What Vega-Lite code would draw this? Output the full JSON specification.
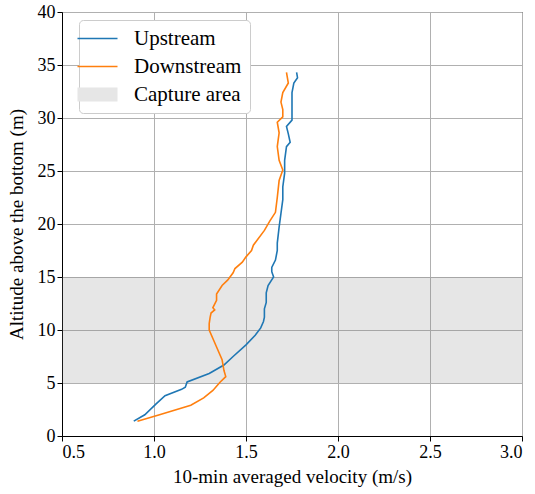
{
  "$schema": "https://vega.github.io/schema/vega-lite/v6.json",
  "width": 460,
  "height": 424,
  "autosize": {"type": "none"},
  "padding": {"left": 62, "top": 12, "right": 13, "bottom": 58},
  "background": "white",
  "config": {
    "font": "Liberation Serif",
    "view": {"stroke": "black", "strokeWidth": 1},
    "axis": {
      "labelFont": "Liberation Serif",
      "titleFont": "Liberation Serif",
      "labelFontSize": 18,
      "titleFontSize": 19,
      "titleFontWeight": "normal",
      "labelColor": "black",
      "titleColor": "black",
      "domainColor": "black",
      "tickColor": "black",
      "tickSize": 5,
      "labelPadding": 2,
      "gridColor": "#b0b0b0",
      "gridWidth": 1
    }
  },
  "datasets": {
    "band": [{"x1": 0.5, "x2": 3.0, "y1": 5, "y2": 15}],
    "profiles": [
      {"series": "Upstream", "alt": 1.4, "v": 0.89},
      {"series": "Upstream", "alt": 2.0, "v": 0.95},
      {"series": "Upstream", "alt": 3.0, "v": 1.01},
      {"series": "Upstream", "alt": 3.8, "v": 1.06},
      {"series": "Upstream", "alt": 4.4, "v": 1.15},
      {"series": "Upstream", "alt": 4.6, "v": 1.17},
      {"series": "Upstream", "alt": 5.1, "v": 1.18},
      {"series": "Upstream", "alt": 5.9, "v": 1.30},
      {"series": "Upstream", "alt": 6.7, "v": 1.38},
      {"series": "Upstream", "alt": 7.5, "v": 1.43},
      {"series": "Upstream", "alt": 8.6, "v": 1.50},
      {"series": "Upstream", "alt": 9.5, "v": 1.55},
      {"series": "Upstream", "alt": 10.2, "v": 1.58},
      {"series": "Upstream", "alt": 10.8, "v": 1.595},
      {"series": "Upstream", "alt": 11.2, "v": 1.60},
      {"series": "Upstream", "alt": 12.0, "v": 1.60},
      {"series": "Upstream", "alt": 12.6, "v": 1.61},
      {"series": "Upstream", "alt": 13.5, "v": 1.61},
      {"series": "Upstream", "alt": 14.2, "v": 1.62},
      {"series": "Upstream", "alt": 15.0, "v": 1.65},
      {"series": "Upstream", "alt": 15.5, "v": 1.64},
      {"series": "Upstream", "alt": 15.9, "v": 1.64},
      {"series": "Upstream", "alt": 16.6, "v": 1.66},
      {"series": "Upstream", "alt": 17.5, "v": 1.67},
      {"series": "Upstream", "alt": 18.2, "v": 1.67},
      {"series": "Upstream", "alt": 19.7, "v": 1.68},
      {"series": "Upstream", "alt": 21.0, "v": 1.69},
      {"series": "Upstream", "alt": 22.3, "v": 1.70},
      {"series": "Upstream", "alt": 23.5, "v": 1.70},
      {"series": "Upstream", "alt": 24.8, "v": 1.71},
      {"series": "Upstream", "alt": 26.0, "v": 1.71},
      {"series": "Upstream", "alt": 27.3, "v": 1.72},
      {"series": "Upstream", "alt": 27.7, "v": 1.74},
      {"series": "Upstream", "alt": 28.5, "v": 1.73},
      {"series": "Upstream", "alt": 29.2, "v": 1.72},
      {"series": "Upstream", "alt": 29.8, "v": 1.75},
      {"series": "Upstream", "alt": 31.0, "v": 1.75},
      {"series": "Upstream", "alt": 32.4, "v": 1.75},
      {"series": "Upstream", "alt": 33.3, "v": 1.76},
      {"series": "Upstream", "alt": 33.8, "v": 1.78},
      {"series": "Upstream", "alt": 34.3, "v": 1.775},
      {"series": "Downstream", "alt": 1.4, "v": 0.91},
      {"series": "Downstream", "alt": 2.0, "v": 1.03},
      {"series": "Downstream", "alt": 2.9, "v": 1.20},
      {"series": "Downstream", "alt": 3.6, "v": 1.27},
      {"series": "Downstream", "alt": 4.3, "v": 1.32},
      {"series": "Downstream", "alt": 5.1, "v": 1.36},
      {"series": "Downstream", "alt": 5.6, "v": 1.39},
      {"series": "Downstream", "alt": 6.2, "v": 1.38},
      {"series": "Downstream", "alt": 7.2, "v": 1.37},
      {"series": "Downstream", "alt": 8.4, "v": 1.34},
      {"series": "Downstream", "alt": 9.2, "v": 1.32},
      {"series": "Downstream", "alt": 10.0, "v": 1.30},
      {"series": "Downstream", "alt": 10.6, "v": 1.30},
      {"series": "Downstream", "alt": 11.2, "v": 1.305},
      {"series": "Downstream", "alt": 11.6, "v": 1.31},
      {"series": "Downstream", "alt": 11.9, "v": 1.33},
      {"series": "Downstream", "alt": 12.1, "v": 1.32},
      {"series": "Downstream", "alt": 12.8, "v": 1.34},
      {"series": "Downstream", "alt": 13.4, "v": 1.34},
      {"series": "Downstream", "alt": 14.2, "v": 1.37},
      {"series": "Downstream", "alt": 14.7, "v": 1.40},
      {"series": "Downstream", "alt": 15.4, "v": 1.43},
      {"series": "Downstream", "alt": 15.8, "v": 1.44},
      {"series": "Downstream", "alt": 16.4, "v": 1.48},
      {"series": "Downstream", "alt": 16.9, "v": 1.50},
      {"series": "Downstream", "alt": 17.5, "v": 1.53},
      {"series": "Downstream", "alt": 18.0, "v": 1.54},
      {"series": "Downstream", "alt": 19.4, "v": 1.60},
      {"series": "Downstream", "alt": 20.3, "v": 1.63},
      {"series": "Downstream", "alt": 21.1, "v": 1.66},
      {"series": "Downstream", "alt": 22.5, "v": 1.67},
      {"series": "Downstream", "alt": 24.1, "v": 1.68},
      {"series": "Downstream", "alt": 25.1, "v": 1.70},
      {"series": "Downstream", "alt": 26.0, "v": 1.68},
      {"series": "Downstream", "alt": 27.3, "v": 1.67},
      {"series": "Downstream", "alt": 28.6, "v": 1.68},
      {"series": "Downstream", "alt": 29.6, "v": 1.67},
      {"series": "Downstream", "alt": 30.1, "v": 1.70},
      {"series": "Downstream", "alt": 30.8, "v": 1.70},
      {"series": "Downstream", "alt": 31.5, "v": 1.69},
      {"series": "Downstream", "alt": 32.4, "v": 1.70},
      {"series": "Downstream", "alt": 33.3, "v": 1.73},
      {"series": "Downstream", "alt": 34.3, "v": 1.72}
    ]
  },
  "layer": [
    {
      "data": {"name": "band"},
      "mark": {"type": "rect", "fill": "#808080", "opacity": 0.2},
      "encoding": {
        "x": {"field": "x1", "type": "quantitative", "scale": {"domain": [0.5, 3.0], "nice": false}},
        "x2": {"field": "x2"},
        "y": {"field": "y1", "type": "quantitative", "scale": {"domain": [0, 40], "nice": false}},
        "y2": {"field": "y2"}
      }
    },
    {
      "data": {"name": "profiles"},
      "mark": {"type": "line", "strokeWidth": 1.6, "clip": true},
      "encoding": {
        "x": {
          "field": "v", "type": "quantitative",
          "scale": {"domain": [0.5, 3.0], "nice": false},
          "axis": {"values": [0.5, 1.0, 1.5, 2.0, 2.5, 3.0], "format": ".1f", "title": "10-min averaged velocity (m/s)", "titlePadding": 6}
        },
        "y": {
          "field": "alt", "type": "quantitative",
          "scale": {"domain": [0, 40], "nice": false},
          "axis": {"values": [0, 5, 10, 15, 20, 25, 30, 35, 40], "title": "Altitude above the bottom (m)", "titlePadding": 11}
        },
        "order": {"field": "alt", "type": "quantitative"},
        "color": {
          "field": "series", "type": "nominal",
          "scale": {"domain": ["Upstream", "Downstream", "Capture area"], "range": ["#1f77b4", "#ff7f0e", "#e6e6e6"]},
          "legend": {
            "title": null,
            "orient": "none",
            "legendX": 17,
            "legendY": 8,
            "fillColor": "white",
            "strokeColor": "#cccccc",
            "cornerRadius": 4,
            "padding": 8,
            "labelFont": "Liberation Serif",
            "labelFontSize": 21,
            "labelColor": "black",
            "labelOffset": 26,
            "symbolSize": 1600,
            "rowPadding": 6,
            "encode": {
              "symbols": {
                "enter": {
                  "shape": {"signal": "datum.value === 'Capture area' ? 'M-1,-0.35H1V0.35H-1Z' : 'stroke'"},
                  "fill": {"signal": "datum.value === 'Capture area' ? '#e6e6e6' : 'transparent'"},
                  "strokeWidth": {"signal": "datum.value === 'Capture area' ? 0 : 1.6"}
                },
                "update": {
                  "shape": {"signal": "datum.value === 'Capture area' ? 'M-1,-0.35H1V0.35H-1Z' : 'stroke'"},
                  "fill": {"signal": "datum.value === 'Capture area' ? '#e6e6e6' : 'transparent'"},
                  "fillOpacity": {"value": 1},
                  "opacity": {"value": 1},
                  "strokeWidth": {"signal": "datum.value === 'Capture area' ? 0 : 1.6"}
                }
              }
            }
          }
        }
      }
    }
  ]
}
